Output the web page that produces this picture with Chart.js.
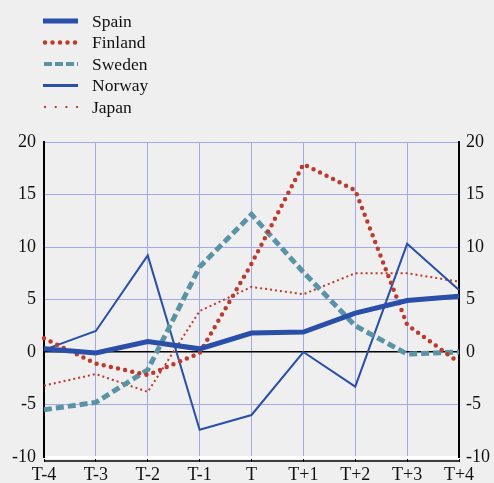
<!DOCTYPE html>
<html>
<head>
<meta charset="utf-8">
<script src="https://cdn.jsdelivr.net/npm/chart.js@4/dist/chart.umd.min.js"></script>
<style>
  html, body { margin: 0; padding: 0; background: #efefef; }
  #wrap { width: 494px; height: 483px; }
</style>
</head>
<body>
<div id="wrap"><canvas id="myChart" width="494" height="483"></canvas></div>
<script>
const periods = ['T-4', 'T-3', 'T-2', 'T-1', 'T', 'T+1', 'T+2', 'T+3', 'T+4'];
const spain   = [0.3, -0.1, 1.0, 0.3, 1.8, 1.9, 3.7, 4.9, 5.3];
const finland = [1.3, -1.1, -2.2, -0.1, 8.4, 17.9, 15.4, 2.6, -1.0];
const sweden  = [-5.5, -4.8, -1.7, 8.1, 13.1, 7.6, 2.5, -0.2, 0.0];
const norway  = [0.2, 2.0, 9.2, -7.4, -6.0, 0.0, -3.3, 10.3, 5.9];
const japan   = [-3.2, -2.1, -3.8, 3.9, 6.2, 5.5, 7.5, 7.5, 6.7];
const yTicks  = [-10, -5, 0, 5, 10, 15, 20];

const blue = '#2a4fa8';
const red = '#bd3b2e';
const teal = '#5b93a6';
const gridColor = '#a2a8ee';
const font = { family: '"Liberation Serif", "Times New Roman", serif', size: 18 };

// legend drawn by hand so the line styles show as lines
const lineLegend = {
  id: 'lineLegend',
  afterDraw(chart) {
    const ctx = chart.ctx;
    ctx.save();
    chart.data.datasets.forEach((ds, i) => {
      const y = 21 + i * 21.5;
      ctx.beginPath();
      ctx.strokeStyle = ds.borderColor;
      ctx.lineWidth = ds.legendWidth;
      ctx.setLineDash(ds.legendDash);
      ctx.lineCap = ds.borderCapStyle || 'butt';
      ctx.moveTo(ds.legendStart, y);
      ctx.lineTo(78, y);
      ctx.stroke();
      ctx.setLineDash([]);
      ctx.fillStyle = '#111';
      ctx.font = '17.5px ' + font.family;
      ctx.textBaseline = 'middle';
      ctx.fillText(ds.label, 92, y + 1);
    });
    // black base line below the x axis
    const a = chart.chartArea;
    ctx.strokeStyle = '#000';
    ctx.lineWidth = 1.5;
    ctx.beginPath();
    ctx.moveTo(a.left, a.bottom + 4);
    ctx.lineTo(a.right, a.bottom + 4);
    ctx.stroke();
    ctx.restore();
  }
};

const ctx = document.getElementById('myChart').getContext('2d');
const myChart = new Chart(ctx, {
  type: 'line',
  data: {
    labels: periods,
    datasets: [
      { label: 'Spain', data: spain, borderColor: blue, borderWidth: 5,
        legendWidth: 5, legendDash: [], legendStart: 43 },
      { label: 'Finland', data: finland, borderColor: red, borderWidth: 4.5,
        borderDash: [0, 7.3], borderCapStyle: 'round',
        legendWidth: 4.5, legendDash: [0, 7.5], legendStart: 45 },
      { label: 'Sweden', data: sweden, borderColor: teal, borderWidth: 5,
        borderDash: [8, 4], legendWidth: 4, legendDash: [8, 3], legendStart: 44 },
      { label: 'Norway', data: norway, borderColor: blue, borderWidth: 2,
        legendWidth: 3, legendDash: [], legendStart: 43 },
      { label: 'Japan', data: japan, borderColor: red, borderWidth: 2,
        borderDash: [2, 3], legendWidth: 2, legendDash: [2, 8.7], legendStart: 44 }
    ]
  },
  options: {
    responsive: false,
    animation: false,
    layout: { padding: { top: 142, left: 0, right: 0, bottom: 0 } },
    elements: { point: { radius: 0 }, line: { tension: 0 } },
    plugins: { legend: { display: false }, tooltip: { enabled: false } },
    scales: {
      x: {
        offset: false,
        grid: { color: gridColor, tickColor: '#000', tickLength: 5, lineWidth: 1 },
        border: { color: '#fff', width: 3 },
        ticks: { color: '#111', font: font, maxRotation: 0, padding: 2 },
        afterFit(s) { s.height = 26; }
      },
      y: {
        min: -10, max: 20,
        afterBuildTicks(s) { s.ticks = yTicks.map(v => ({ value: v })); },
        grid: {
          color: c => c.tick && c.tick.value === 0 ? '#000' : gridColor,
          lineWidth: c => c.tick && c.tick.value === 0 ? 1.5 : 1,
          drawTicks: false
        },
        border: { color: '#000', width: 2 },
        ticks: { color: '#111', font: font, padding: 8 },
        afterFit(s) { s.width = 44; }
      },
      y2: {
        position: 'right',
        min: -10, max: 20,
        afterBuildTicks(s) { s.ticks = yTicks.map(v => ({ value: v })); },
        grid: { display: false, drawTicks: false },
        border: { color: '#000', width: 2 },
        ticks: { color: '#111', font: font, padding: 7 },
        afterFit(s) { s.width = 35; }
      }
    }
  },
  plugins: [lineLegend]
});
</script>
</body>
</html>
